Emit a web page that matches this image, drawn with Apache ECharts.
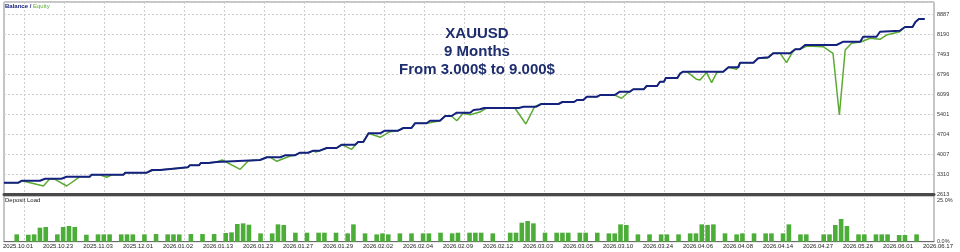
<!DOCTYPE html>
<html>
<head>
<meta charset="utf-8">
<style>
  html, body { margin: 0; padding: 0; background: #fff; }
  #chart { width: 960px; height: 252px; }
</style>
<script src="https://cdn.jsdelivr.net/npm/echarts@6/dist/echarts.min.js"></script>
</head>
<body>
<div id="chart"></div>
<script>
// deal index (x) / account value (y)
var balance = [
  [-2.2,3017],[0.3,3017],[0.9,3087],[4.0,3087],[4.9,3157],[7.7,3157],[8.6,3226],[12.6,3226],
  [12.9,3296],[18.4,3296],[18.7,3366],[22.4,3366],[23.3,3460],[24.7,3460],[25.0,3505],[26.9,3505],
  [27.2,3554],[29.5,3554],[29.8,3624],[31.4,3624],[31.7,3704],[33.0,3704],[33.3,3740],[34.4,3740],
  [34.7,3809],[41.9,3809],[43.1,3903],[45.4,3903],[46.2,3972],[47.9,3972],[48.8,4063],[50.2,4063],
  [51.1,4133],[52.2,4133],[53.4,4227],[55.1,4227],[56.0,4342],[58.3,4342],[58.8,4436],[59.7,4436],
  [60.6,4739],[62.6,4739],[63.4,4830],[65.7,4830],[66.6,4924],[68.0,4924],[68.6,5088],[70.6,5088],
  [71.2,5178],[72.9,5178],[73.8,5342],[74.9,5342],[75.8,5457],[78.1,5457],[78.7,5551],[79.8,5576],
  [80.5,5621],[86.5,5621],[87.3,5666],[89.5,5666],[90.3,5760],[93.3,5760],[94.0,5830],[96.0,5830],
  [96.5,5900],[97.6,5900],[98.2,6015],[100.0,6015],[100.5,6074],[103.0,6074],[103.9,6189],[105.6,6189],
  [106.2,6273],[108.0,6273],[108.5,6388],[110.3,6388],[110.8,6538],[111.5,6538],[111.8,6667],[113.8,6667],
  [114.3,6830],[114.8,6886],[121.7,6886],[122.6,7040],[124.3,7040],[124.6,7200],[126.9,7200],[127.7,7353],
  [129.5,7388],[130.3,7528],[133.2,7528],[134.1,7667],[134.9,7667],[135.8,7817],[141.2,7817],[142.4,7932],
  [145.3,7932],[145.8,8106],[148.1,8106],[148.7,8280],[152.1,8315],[153.0,8444],[154.3,8444],[154.8,8618],
  [155.4,8723],[156.4,8723]
];

var equity = [
  [-2.2,3017],[0.3,3017],[0.9,3087],[4.6,2902],[5.7,3157],[6.6,3136],[8.6,2902],[10.9,3226],
  [12.6,3226],[12.9,3296],[14.3,3296],[15.5,3206],[16.4,3296],[18.4,3296],[18.7,3366],[22.4,3366],
  [23.3,3440],[24.7,3460],[25.8,3484],[26.9,3505],[27.2,3554],[29.5,3554],[29.8,3624],[31.4,3624],
  [31.7,3704],[33.0,3704],[33.3,3740],[34.4,3740],[34.7,3809],[35.4,3809],[38.5,3484],[39.9,3784],
  [41.9,3809],[43.1,3903],[43.7,3903],[44.8,3763],[47.1,3948],[47.9,3972],[48.8,4063],[50.2,4063],
  [51.1,4133],[51.5,4087],[52.2,4133],[53.4,4227],[55.1,4227],[56.0,4342],[57.7,4181],[58.8,4436],
  [59.7,4436],[60.6,4739],[62.6,4600],[64.3,4795],[65.7,4830],[66.6,4924],[68.0,4924],[68.6,5088],
  [70.6,5088],[71.2,5109],[72.9,5178],[73.8,5342],[74.9,5342],[75.8,5178],[76.9,5436],[78.1,5387],
  [79.8,5481],[80.9,5621],[85.8,5621],[87.7,5063],[89.2,5666],[89.5,5666],[90.3,5760],[93.3,5760],
  [94.0,5830],[96.0,5830],[96.5,5900],[97.6,5900],[98.2,6015],[100.0,6015],[100.5,6074],[103.0,6074],
  [104.2,5959],[105.3,6160],[106.2,6273],[108.0,6273],[108.5,6388],[110.3,6388],[110.8,6538],[111.5,6538],
  [111.8,6667],[113.8,6667],[114.3,6830],[114.8,6886],[115.5,6880],[117.1,6621],[117.7,6597],[118.8,6860],
  [119.7,6503],[120.6,6860],[121.7,6886],[122.6,7040],[124.0,6970],[124.6,7200],[126.9,7200],[127.7,7353],
  [129.2,7353],[130.3,7528],[131.5,7528],[132.6,7200],[133.5,7528],[134.1,7667],[134.9,7667],[136.1,7782],
  [138.9,7758],[140.6,7528],[141.7,5377],[142.7,7643],[143.8,7876],[145.5,7932],[147.0,8050],[148.7,8015],
  [149.8,8165],[152.1,8280],[153.0,8444],[154.3,8444],[154.8,8618],[155.4,8723],[156.4,8723]
];

// deposit load bars: deal index and percent
var loadDeals = [0,2,3,4,5,7,8,9,10,12,14,15,16,18,19,20,22,24,26,27,28,30,32,34,36,37,38,
  39,40,42,44,45,46,48,50,52,53,55,57,58,60,62,63,64,66,68,70,71,73,75,76,78,79,
  80,82,85,86,87,88,89,91,93,94,95,97,98,100,102,103,104,105,107,109,111,112,114,116,117,118,119,120,
  122,124,125,127,129,130,132,133,135,136,139,140,141,142,143,145,146,148,149,150,152,153,155];
var loadPct = [4.4,4.2,4.4,8.4,8.8,4.4,8.8,9.4,8.8,4.2,4.4,4.4,4.4,4.4,4.4,4.4,4.4,4.6,4.4,4.4,4.4,4.6,4.6,4.6,5.2,5.6,10.6,
  11.0,10.2,5.0,5.0,10.4,10.0,5.4,5.4,5.4,5.4,5.4,5.0,10.4,5.0,4.4,5.0,4.4,5.0,5.0,5.0,5.0,5.4,5.0,5.4,5.4,5.4,
  5.4,5.0,5.4,5.4,11.4,12.4,11.0,5.4,5.4,5.4,5.4,5.4,5.4,5.4,5.0,5.0,10.4,10.0,4.4,4.4,4.4,4.4,4.4,5.0,5.0,10.4,10.0,10.4,
  5.0,4.4,5.0,5.0,5.0,5.0,5.0,10.4,4.4,4.4,4.4,4.4,10.0,13.6,9.4,4.4,4.4,4.4,4.4,4.4,4.0,4.0,4.4];

var dateLabels = ['2025.10.01','2025.10.23','2025.11.03','2025.12.01','2026.01.02','2026.01.13',
  '2026.01.23','2026.01.27','2026.01.29','2026.02.02','2026.02.04','2026.02.09','2026.02.12',
  '2026.03.03','2026.03.05','2026.03.10','2026.03.24','2026.04.06','2026.04.08','2026.04.14',
  '2026.04.27','2026.05.26','2026.06.01','2026.06.17'];

var chart = echarts.init(document.getElementById('chart'));

var loadData = loadDeals.map(function (d, i) { return [d, loadPct[i]]; });
var dash = { color: '#cdcdcd', width: 1, type: [2, 2] };
var lbl = { fontFamily: 'Liberation Sans', fontSize: 5.5, color: '#333' };

var option = {
  animation: false,
  backgroundColor: '#fff',
  grid: [
    { left: 4, right: 26, top: 2, bottom: 57.7, show: true, borderColor: '#8c8c8c', borderWidth: 1 },
    { left: 4, right: 26, top: 196, bottom: 10.3, show: true, borderColor: '#8c8c8c', borderWidth: 1 },
    { left: 24, right: 16, top: 2, bottom: 10.3 }
  ],
  xAxis: [
    { type: 'value', gridIndex: 0, min: -2.19, max: 158.0,
      axisLine: { show: true, onZero: false, lineStyle: { color: '#4a4a4a', width: 3 } },
      axisTick: { show: false }, axisLabel: { show: false }, splitLine: { show: false } },
    { type: 'value', gridIndex: 1, min: -2.19, max: 158.0,
      axisLine: { show: true, onZero: false, lineStyle: { color: '#6a6a6a', width: 1 } },
      axisTick: { show: false }, axisLabel: { show: false }, splitLine: { show: false } },
    { type: 'category', gridIndex: 2, data: dateLabels, boundaryGap: false,
      axisLine: { show: false }, axisTick: { show: false },
      axisLabel: { interval: 0, margin: 2, fontFamily: 'Liberation Sans', fontSize: 6, color: '#222',
        align: 'center', padding: [0, 12, 0, 0] },
      splitLine: { show: true, interval: function (idx) { return idx < 23; }, lineStyle: dash } }
  ],
  yAxis: [
    { type: 'value', gridIndex: 0, position: 'right', min: 2613, max: 9315.7, interval: 697.11,
      axisLine: { show: false }, axisTick: { show: false },
      axisLabel: Object.assign({ margin: 3, showMaxLabel: false,
        formatter: function (v) { return Math.round(v); } }, lbl),
      splitLine: { show: true, lineStyle: dash } },
    { type: 'value', gridIndex: 1, position: 'right', min: 0, max: 27.4, interval: 25,
      axisLine: { show: false }, axisTick: { show: false },
      axisLabel: Object.assign({ margin: 3, showMaxLabel: false,
        formatter: function (v) { return v.toFixed(1) + '%'; } }, lbl),
      splitLine: { show: false } },
    { type: 'value', gridIndex: 2, min: 0, max: 1, show: false }
  ],
  series: [
    { name: 'Equity', type: 'line', xAxisIndex: 0, yAxisIndex: 0, data: equity,
      showSymbol: false, z: 2, lineStyle: { color: '#5bab33', width: 1.5 } },
    { name: 'Balance', type: 'line', xAxisIndex: 0, yAxisIndex: 0, data: balance,
      showSymbol: false, z: 3, lineStyle: { color: '#15217f', width: 2 } },
    { name: 'Deposit Load', type: 'bar', xAxisIndex: 1, yAxisIndex: 1, data: loadData,
      barWidth: 4.6, itemStyle: { color: '#4cae38' } }
  ],
  graphic: [
    { type: 'text', left: 5, top: 3, z: 10,
      style: { text: '{b|Balance / }{e|Equity}', rich: {
        b: { fontFamily: 'Liberation Sans', fontSize: 6, fontWeight: 'bold', fill: '#1a237e' },
        e: { fontFamily: 'Liberation Sans', fontSize: 6, fill: '#5bab33' } } } },
    { type: 'text', left: 5, top: 197, z: 10,
      style: { text: 'Deposit Load', fontFamily: 'Liberation Sans', fontSize: 6, fill: '#222' } },
    { type: 'text', x: 477, y: 25, z: 10,
      style: { text: 'XAUUSD\n9 Months\nFrom 3.000$ to 9.000$', textAlign: 'center',
        fontFamily: 'Liberation Sans', fontSize: 15, fontWeight: 'bold', lineHeight: 18, fill: '#1d2d6e' } }
  ]
};

chart.setOption(option);
</script>
</body>
</html>
